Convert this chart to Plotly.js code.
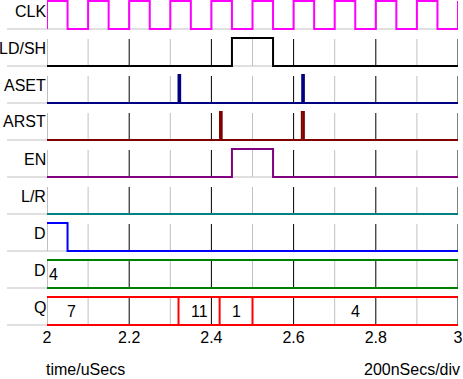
<!DOCTYPE html>
<html><head><meta charset="utf-8">
<script src="https://cdn.plot.ly/plotly-3.0.1.min.js"></script>
<style>html,body{margin:0;padding:0;background:#fff}#chart{width:463px;height:379px}</style>
</head><body><div id="chart"></div>
<script>
// ---- data ----
const signalNames = ["CLK", "LD/SH", "ASET", "ARST", "EN", "L/R", "D", "D", "Q"];
const clkT  = [2.0, 2.0, 2.05, 2.1, 2.15, 2.2, 2.25, 2.3, 2.35, 2.4, 2.45, 2.5, 2.55, 2.6, 2.65, 2.7, 2.75, 2.8, 2.85, 2.9, 2.95, 3.0];
const clkV  = [0,   1,   0,    1,   0,    1,   0,    1,   0,    1,   0,    1,   0,    1,   0,    1,   0,    1,   0,    1,   0,    1];
const ldshT = [2.0, 2.45, 2.55, 3.0];
const ldshV = [0,   1,    0,    0];
const asetT = [2.0, 2.32, 2.324, 2.621, 2.625, 3.0];
const asetV = [0,   1,    0,     1,     0,     0];
const arstT = [2.0, 2.421, 2.425, 2.62, 2.625, 3.0];
const arstV = [0,   1,     0,     1,    0,     0];
const enT   = [2.0, 2.45, 2.55, 3.0];
const enV   = [0,   1,    0,    0];
const lrT   = [2.0, 3.0];
const lrV   = [0,   0];
const dT    = [2.0, 2.05, 3.0];
const dV    = [1,   0,    0];
const dBusStart = [1.03];
const dBusVals  = ["4"];
const qBusStart = [1.8, 2.32, 2.42, 2.5];
const qBusVals  = ["7", "11", "1", "4"];
const tStart = 2.0, tEnd = 3.0;
const tickVals = [2, 2.2, 2.4, 2.6, 2.8, 3];
const tickText = ["2", "2.2", "2.4", "2.6", "2.8", "3"];
const minorGrid = [2.1, 2.3, 2.5, 2.7, 2.9];
const majorGrid = [2.2, 2.4, 2.6, 2.8, 3.0];

// ---- layout constants ----
const W = 463, H = 379, ML = 47, MR = 5, MT = 0, MB = 53;
const PH = H - MT - MB, PW = W - ML - MR;
const ROW0 = 29, ROWSTEP = 37, HIGH = 28, GRIDH = 27;
const FONT = "Arial, 'Liberation Sans', sans-serif";
const base = i => ROW0 + ROWSTEP * i;
const lvlY = (i, v) => base(i) - HIGH * v;
const pxX = px => (px - ML) / PW;
const pxY = py => (PH - (py - MT)) / PH;

const traces = [];
function gridTrace(xs, color, width) {
  const x = [], y = [];
  for (let i = 0; i < signalNames.length; i++) {
    xs.forEach(t => { x.push(t, t, null); y.push(base(i) - GRIDH, base(i), null); });
  }
  traces.push({x, y, mode: 'lines', line: {color, width}, hoverinfo: 'skip', cliponaxis: false});
}
gridTrace([tStart], '#c0c0c0', 2);
gridTrace(minorGrid, '#c0c0c0', 1);
gridTrace(majorGrid, '#000000', 1);

function digital(i, T, V, color) {
  traces.push({x: T, y: V.map(v => lvlY(i, v)), mode: 'lines', line: {color, width: 2, shape: 'hv'},
               hoverinfo: 'skip', cliponaxis: false});
}
digital(0, clkT, clkV, '#ff00ff');
digital(1, ldshT, ldshV, '#000000');
digital(2, asetT, asetV, '#000080');
digital(3, arstT, arstV, '#800000');
digital(4, enT, enV, '#800080');
digital(5, lrT, lrV, '#008080');
digital(6, dT, dV, '#0000ff');

const annotations = [];
function bus(i, starts, vals, color) {
  const x = [tStart, tEnd, null, tStart, tEnd, null], y = [lvlY(i,1), lvlY(i,1), null, lvlY(i,0), lvlY(i,0), null];
  starts.forEach(s => { if (s > tStart) { x.push(s, s, null); y.push(lvlY(i,1), lvlY(i,0), null); } });
  traces.push({x, y, mode: 'lines', line: {color, width: 2}, hoverinfo: 'skip', cliponaxis: false});
  starts.forEach((s, k) => {
    const e = k + 1 < starts.length ? starts[k + 1] : tEnd;
    annotations.push({x: (s + e) / 2, y: lvlY(i, 0.5), xref: 'x', yref: 'y', text: vals[k], showarrow: false,
      font: {family: FONT, size: 16, color: '#000'}, xanchor: 'center', yanchor: 'middle'});
  });
}
bus(7, dBusStart, dBusVals, '#008000');
bus(8, qBusStart, qBusVals, '#ff0000');

signalNames.forEach((n, i) => {
  annotations.push({x: pxX(48), y: pxY(base(i) - 18), xref: 'paper', yref: 'paper', text: n, showarrow: false,
    font: {family: FONT, size: 16, color: '#000'}, xanchor: 'right', yanchor: 'middle'});
});
annotations.push({x: pxX(46), y: pxY(369.5), xref: 'paper', yref: 'paper', text: 'time/uSecs', showarrow: false,
  borderpad: 0, borderwidth: 0,
  font: {family: FONT, size: 16, color: '#000'}, xanchor: 'left', yanchor: 'middle'});
annotations.push({x: pxX(460), y: pxY(369.5), xref: 'paper', yref: 'paper', text: '200nSecs/div', showarrow: false,
  borderpad: 0, borderwidth: 0,
  font: {family: FONT, size: 16, color: '#000'}, xanchor: 'right', yanchor: 'middle'});

const shapes = signalNames.map((n, i) => ({type: 'line', xref: 'paper', yref: 'y', x0: pxX(7), x1: 1,
  y0: base(i), y1: base(i), line: {color: '#c0c0c0', width: 1}, layer: 'below'}));

const layout = {
  width: W, height: H, margin: {l: ML, r: MR, t: MT, b: MB, pad: 0},
  paper_bgcolor: '#fff', plot_bgcolor: '#fff', showlegend: false,
  xaxis: {range: [tStart, tEnd], tickvals: tickVals, ticktext: tickText, showgrid: false, zeroline: false,
          showline: false, ticks: '', tickfont: {family: FONT, size: 16, color: '#000'}, fixedrange: true},
  yaxis: {range: [PH, 0], showgrid: false, zeroline: false, showline: false, showticklabels: false, ticks: '', fixedrange: true},
  annotations, shapes
};
Plotly.newPlot('chart', traces, layout, {staticPlot: true, displayModeBar: false});
</script></body></html>
